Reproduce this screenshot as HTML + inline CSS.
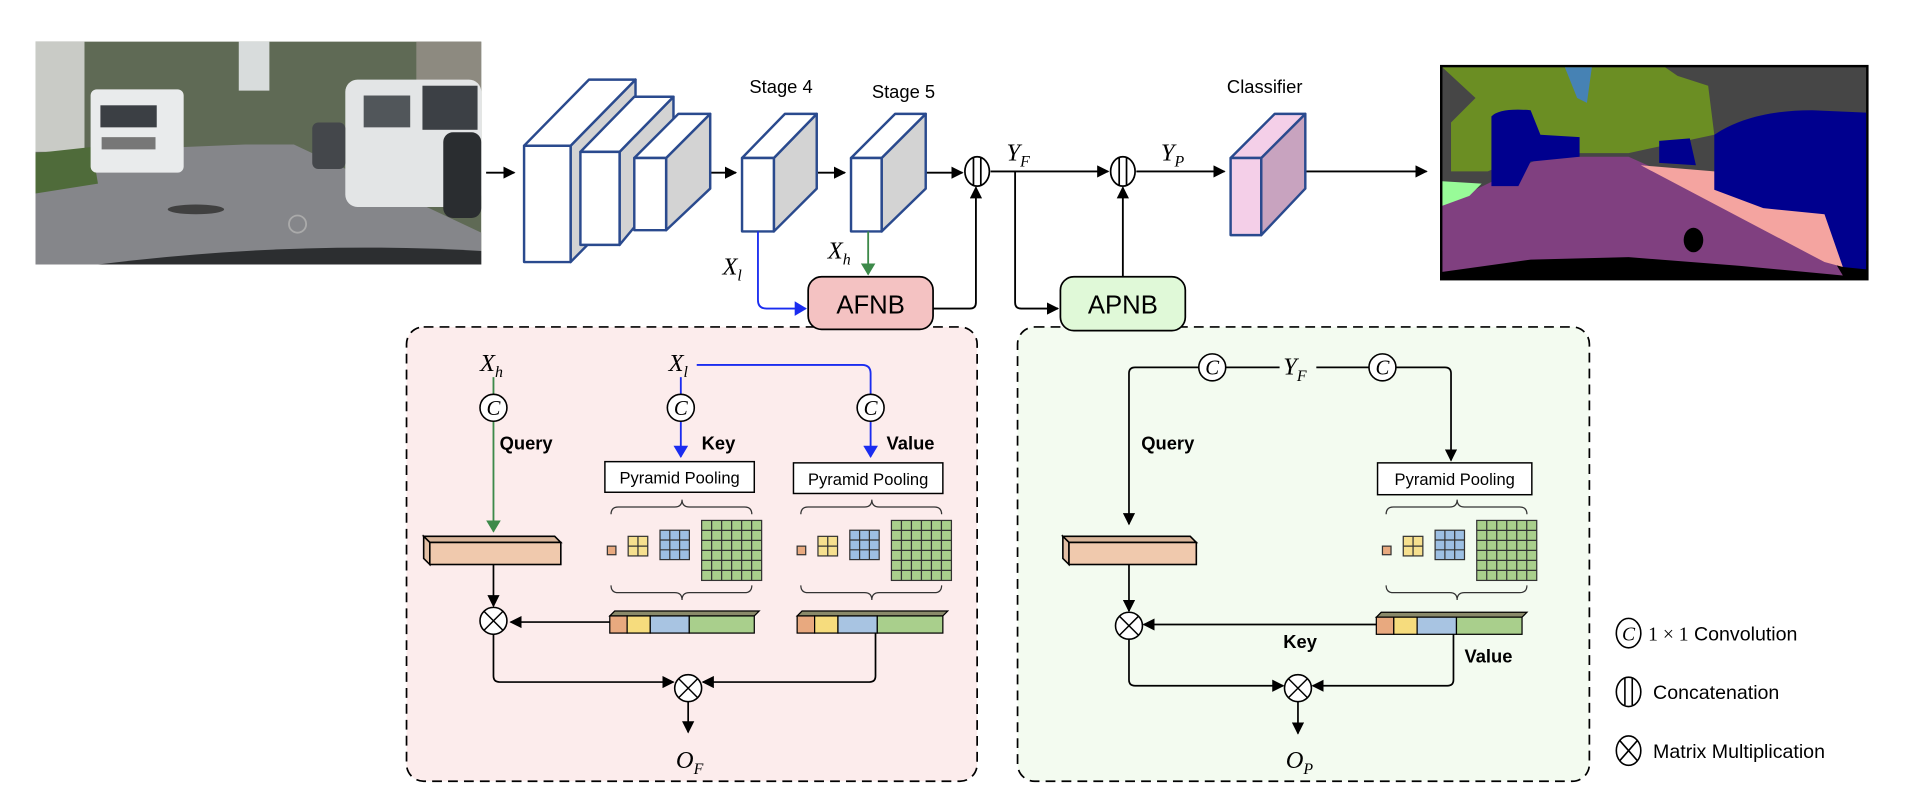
<!DOCTYPE html>
<html><head><meta charset="utf-8"><style>
html,body{margin:0;padding:0;background:#fff;width:1920px;height:787px;overflow:hidden}
svg{display:block}
text{font-family:"Liberation Sans",sans-serif;fill:#000}
.m{font-family:"Liberation Serif",serif;font-style:italic}
</style></head><body>
<svg id="s" width="1920" height="787" viewBox="0 0 1568 642.7" preserveAspectRatio="none" xmlns="http://www.w3.org/2000/svg">
<defs>
<marker id="ak" markerWidth="10" markerHeight="10" refX="9" refY="5" orient="auto" markerUnits="userSpaceOnUse"><path d="M0,0 L10,5 L0,10 Z" fill="#000"/></marker>
<marker id="ab" markerWidth="10" markerHeight="12" refX="9" refY="6" orient="auto" markerUnits="userSpaceOnUse"><path d="M0,0 L10,6 L0,12 Z" fill="#1a2cf0"/></marker>
<marker id="ag" markerWidth="10" markerHeight="12" refX="9" refY="6" orient="auto" markerUnits="userSpaceOnUse"><path d="M0,0 L10,6 L0,12 Z" fill="#3d8a4a"/></marker>
</defs>

<!-- photo -->
<g>
<rect x="29" y="34" width="364" height="182" fill="#5f6a55"/>
<rect x="195" y="34" width="25" height="40" fill="#d8dcdc"/>
<rect x="29" y="34" width="40" height="90" fill="#c9cbc6"/>
<rect x="340" y="34" width="53" height="40" fill="#8d8a80"/>
<path d="M29,125 L200,118 L240,118 L393,190 L393,216 L29,216 Z" fill="#85868a"/>
<path d="M29,125 L75,120 L80,150 L29,158 Z" fill="#4f6b3a"/>
<rect x="74" y="73" width="76" height="68" rx="5" fill="#e9ebec"/>
<rect x="82" y="86" width="46" height="18" fill="#3b3f44"/>
<rect x="83" y="112" width="44" height="10" fill="#777"/>
<rect x="282" y="65" width="111" height="104" rx="10" fill="#e3e5e6"/>
<rect x="345" y="70" width="45" height="36" fill="#3c4045"/>
<rect x="297" y="78" width="38" height="26" fill="#51565a"/>
<rect x="362" y="108" width="31" height="70" rx="8" fill="#2a2d30"/>
<rect x="255" y="100" width="27" height="38" rx="5" fill="#44474b"/>
<ellipse cx="160" cy="171" rx="23" ry="4" fill="#404040"/>
<path d="M80,216 Q240,196 393,205 L393,216 Z" fill="#2c2e30"/>
<circle cx="243" cy="183" r="7" fill="none" stroke="#aaa" stroke-width="1.5"/>
</g>

<!-- arrows top -->
<g stroke="#000" stroke-width="1.5" fill="none">
<line x1="397" y1="141" x2="420" y2="141" marker-end="url(#ak)"/>
<line x1="579" y1="141" x2="601" y2="141" marker-end="url(#ak)"/>
<line x1="668" y1="141" x2="690" y2="141" marker-end="url(#ak)"/>
<line x1="747" y1="141" x2="786" y2="141" marker-end="url(#ak)"/>
<line x1="809" y1="140" x2="905" y2="140" marker-end="url(#ak)"/>
<line x1="928" y1="140" x2="1000" y2="140" marker-end="url(#ak)"/>
<line x1="1067" y1="140" x2="1165" y2="140" marker-end="url(#ak)"/>
<path d="M762,252 L792,252 Q797,252 797,247 L797,153" marker-end="url(#ak)"/>
<path d="M829,140 L829,247 Q829,252 834,252 L864,252" marker-end="url(#ak)"/>
<line x1="917" y1="226" x2="917" y2="153" marker-end="url(#ak)"/>
</g>

<!-- blocks -->
<g stroke="#2a4a8e" stroke-width="2" stroke-linejoin="round">
<path d="M466,119 L519,65 L519,160 L466,214 Z" fill="#d3d3d3"/>
<path d="M428,119 L481,65 L519,65 L466,119 Z" fill="#fff"/>
<rect x="428" y="119" width="38" height="95" fill="#fff"/>
<path d="M506,124 L550,79 L550,147 L506,200 Z" fill="#d3d3d3"/>
<path d="M474,124 L518,79 L550,79 L506,124 Z" fill="#fff"/>
<rect x="474" y="124" width="32" height="76" fill="#fff"/>
<path d="M544,129 L580,93 L580,154 L544,188 Z" fill="#d3d3d3"/>
<path d="M518,129 L554,93 L580,93 L544,129 Z" fill="#fff"/>
<rect x="518" y="129" width="26" height="59" fill="#fff"/>
<path d="M632,129 L667,93 L667,154 L632,189 Z" fill="#d3d3d3"/>
<path d="M606,129 L641,93 L667,93 L632,129 Z" fill="#fff"/>
<rect x="606" y="129" width="26" height="60" fill="#fff"/>
<path d="M720,129 L756,93 L756,154 L720,189 Z" fill="#d3d3d3"/>
<path d="M695,129 L731,93 L756,93 L720,129 Z" fill="#fff"/>
<rect x="695" y="129" width="25" height="60" fill="#fff"/>
<path d="M1030,129 L1066,93 L1066,154 L1030,192 Z" fill="#c8a3bf"/>
<path d="M1005,129 L1041,93 L1066,93 L1030,129 Z" fill="#f4cfe8"/>
<rect x="1005" y="129" width="25" height="63" fill="#f4cfe8"/>
</g>
<text x="612" y="76" font-size="15">Stage 4</text>
<text x="712" y="80" font-size="15">Stage 5</text>
<text x="1002" y="76" font-size="15">Classifier</text>

<!-- Xl / Xh -->
<path d="M619,189 L619,245 Q619,252 626,252 L658,252" stroke="#1a2cf0" stroke-width="1.5" fill="none" marker-end="url(#ab)"/>
<line x1="709" y1="189" x2="709" y2="224" stroke="#3d8a4a" stroke-width="1.5" marker-end="url(#ag)"/>
<text class="m" x="590" y="224" font-size="20">X<tspan font-size="13" dy="5">l</tspan></text>
<text class="m" x="676" y="211" font-size="20">X<tspan font-size="13" dy="5">h</tspan></text>
<text class="m" x="822" y="131" font-size="20">Y<tspan font-size="13" dy="5">F</tspan></text>
<text class="m" x="948" y="131" font-size="20">Y<tspan font-size="13" dy="5">P</tspan></text>

<!-- concat circles -->
<g stroke="#000" stroke-width="1.4" fill="#fff">
<ellipse cx="798" cy="140" rx="10" ry="12"/><line x1="795" y1="129" x2="795" y2="151"/><line x1="801" y1="129" x2="801" y2="151"/>
<ellipse cx="917" cy="140" rx="10" ry="12"/><line x1="914" y1="129" x2="914" y2="151"/><line x1="920" y1="129" x2="920" y2="151"/>
</g>

<!-- panels -->
<rect x="332" y="267" width="466" height="371" rx="14" fill="#fcecec" stroke="#000" stroke-width="1.4" stroke-dasharray="8,5"/>
<rect x="831" y="267" width="467" height="371" rx="14" fill="#f3fbf0" stroke="#000" stroke-width="1.4" stroke-dasharray="8,5"/>
<rect x="660" y="226" width="102" height="43" rx="11" fill="#f4c2c2" stroke="#000" stroke-width="1.4"/>
<text x="711" y="256" font-size="21" text-anchor="middle">AFNB</text>
<rect x="866" y="226" width="102" height="44" rx="11" fill="#e0f9d8" stroke="#000" stroke-width="1.4"/>
<text x="917" y="256" font-size="21" text-anchor="middle">APNB</text>

<!-- seg image -->
<g>
<rect x="1176" y="53" width="350" height="176" fill="#000"/>
<rect x="1178" y="55" width="346" height="150" fill="#464646"/>
<path d="M1178,55 L1360,55 L1370,62 L1395,70 L1400,110 L1330,125 L1250,125 L1215,140 L1185,140 L1185,100 L1205,80 Z" fill="#6b8e23"/>
<path d="M1278,55 L1300,55 L1296,84 L1288,80 Z" fill="#4682b4"/>
<path d="M1178,168 L1260,128 L1330,128 L1490,200 L1505,225 L1420,217 L1330,210 L1250,212 L1178,222 Z" fill="#804080"/>
<path d="M1178,148 L1210,150 L1200,160 L1178,168 Z" fill="#98fb98"/>
<path d="M1340,135 L1400,140 L1505,175 L1505,218 L1490,214 Z" fill="#f4a4a0"/>
<path d="M1218,95 Q1225,88 1250,90 L1258,110 L1290,112 L1290,128 L1250,132 L1240,152 L1218,152 Z" fill="#00008e"/>
<path d="M1400,110 Q1430,90 1480,90 L1524,92 L1524,220 L1505,218 L1490,175 L1440,170 L1400,155 Z" fill="#00008e"/>
<path d="M1355,115 L1380,113 L1385,135 L1355,133 Z" fill="#00008e"/>
<ellipse cx="1383" cy="196" rx="8" ry="10" fill="#000"/>
</g>

<!-- AFNB internals -->
<text class="m" x="392" y="303" font-size="20">X<tspan font-size="13" dy="5">h</tspan></text>
<text class="m" x="546" y="303" font-size="20">X<tspan font-size="13" dy="5">l</tspan></text>
<line x1="403" y1="308" x2="403" y2="322" stroke="#3d8a4a" stroke-width="1.5"/>
<line x1="403" y1="344" x2="403" y2="434" stroke="#3d8a4a" stroke-width="1.5" marker-end="url(#ag)"/>
<line x1="556" y1="308" x2="556" y2="322" stroke="#1a2cf0" stroke-width="1.5"/>
<path d="M569,298 L704,298 Q711,298 711,305 L711,322" stroke="#1a2cf0" stroke-width="1.5" fill="none"/>
<line x1="556" y1="344" x2="556" y2="373" stroke="#1a2cf0" stroke-width="1.5" marker-end="url(#ab)"/>
<line x1="711" y1="344" x2="711" y2="373" stroke="#1a2cf0" stroke-width="1.5" marker-end="url(#ab)"/>
<text x="408" y="367" font-size="15" font-weight="bold">Query</text>
<text x="573" y="367" font-size="15" font-weight="bold">Key</text>
<text x="724" y="367" font-size="15" font-weight="bold">Value</text>
<rect x="494" y="377" width="122" height="25" fill="#fff" stroke="#000" stroke-width="1.2"/>
<text x="555" y="395" font-size="13.5" text-anchor="middle">Pyramid Pooling</text>
<rect x="648" y="378" width="122" height="25" fill="#fff" stroke="#000" stroke-width="1.2"/>
<text x="709" y="396" font-size="13.5" text-anchor="middle">Pyramid Pooling</text>

<g stroke="#000" stroke-width="1.4" fill="none">
<path d="M403,460 L403,495" marker-end="url(#ak)"/>
<path d="M498,508 L417,508" marker-end="url(#ak)"/>
<path d="M403,518 L403,552 Q403,557 408,557 L550,557" marker-end="url(#ak)"/>
<path d="M715,517 L715,552 Q715,557 710,557 L574,557" marker-end="url(#ak)"/>
<path d="M562,573 L562,598" marker-end="url(#ak)"/>
<path d="M979,300 L927,300 Q922,300 922,305 L922,428" marker-end="url(#ak)"/>
<path d="M1001,300 L1045,300 M1075,300 L1118,300"/>
<path d="M1140,300 L1180,300 Q1185,300 1185,305 L1185,376" marker-end="url(#ak)"/>
<path d="M922,460 L922,499" marker-end="url(#ak)"/>
<path d="M1124,510 L934,510" marker-end="url(#ak)"/>
<path d="M922,522 L922,555 Q922,560 927,560 L1048,560" marker-end="url(#ak)"/>
<path d="M1187,518 L1187,555 Q1187,560 1182,560 L1072,560" marker-end="url(#ak)"/>
<path d="M1060,573 L1060,599" marker-end="url(#ak)"/>
</g>
<text class="m" x="552" y="627" font-size="20">O<tspan font-size="13" dy="5">F</tspan></text>
<text class="m" x="1050" y="627" font-size="20">O<tspan font-size="13" dy="5">P</tspan></text>

<!-- APNB labels -->
<text class="m" x="1048" y="306" font-size="20">Y<tspan font-size="13" dy="5">F</tspan></text>
<text x="932" y="367" font-size="15" font-weight="bold">Query</text>
<text x="1048" y="529" font-size="15" font-weight="bold">Key</text>
<text x="1196" y="541" font-size="15" font-weight="bold">Value</text>
<rect x="1125" y="378" width="126" height="26" fill="#fff" stroke="#000" stroke-width="1.2"/>
<text x="1188" y="396" font-size="13.5" text-anchor="middle">Pyramid Pooling</text>

<g id="dyn"></g>

<!-- legend -->
<g stroke="#000" stroke-width="1.3" fill="#fff">
<ellipse cx="1330" cy="517" rx="10" ry="12"/>
<ellipse cx="1330" cy="565" rx="10" ry="12"/><line x1="1327" y1="554" x2="1327" y2="576"/><line x1="1333" y1="554" x2="1333" y2="576"/>
<ellipse cx="1330" cy="613" rx="10" ry="12"/><line x1="1323" y1="605" x2="1337" y2="621"/><line x1="1337" y1="605" x2="1323" y2="621"/>
</g>
<text class="m" x="1330" y="523" font-size="16" text-anchor="middle">C</text>
<text x="1346" y="523" font-size="16"><tspan font-family="Liberation Serif">1 × 1</tspan> Convolution</text>
<text x="1350" y="571" font-size="16">Concatenation</text>
<text x="1350" y="619" font-size="16">Matrix Multiplication</text>
</svg>
<script>
var NS="http://www.w3.org/2000/svg",g=document.getElementById("dyn");
function el(t,a){var e=document.createElementNS(NS,t);for(var k in a)e.setAttribute(k,a[k]);g.appendChild(e);return e;}
function grid(x,y,s,n,fill){el("rect",{x:x,y:y,width:s,height:s,fill:fill,stroke:"#333","stroke-width":1});
 for(var i=1;i<n;i++){var d=s*i/n;el("line",{x1:x+d,y1:y,x2:x+d,y2:y+s,stroke:"#333","stroke-width":1});el("line",{x1:x,y1:y+d,x2:x+s,y2:y+d,stroke:"#333","stroke-width":1});}}
function pyr(x0){grid(x0,446,7,1,"#e8a97f");grid(x0+17,438,16,2,"#f6e08f");grid(x0+43,433,24,3,"#9dbfe3");grid(x0+77,425,49,6,"#a9cf8c");
 el("path",{d:"M"+(x0+3)+",420 q0,-6 6,-6 L"+(x0+55)+",414 q6,0 6,-6 q0,6 6,6 L"+(x0+112)+",414 q6,0 6,6",fill:"none",stroke:"#333","stroke-width":1});
 el("path",{d:"M"+(x0+3)+",478 q0,6 6,6 L"+(x0+55)+",484 q6,0 6,6 q0,-6 6,-6 L"+(x0+112)+",484 q6,0 6,-6",fill:"none",stroke:"#333","stroke-width":1});}
function qbar(x,y,w,h){var d=5;
 el("path",{d:"M"+x+","+y+" l"+d+","+d+" l"+(w-d)+",0 l-"+d+",-"+d+" Z",fill:"#d8b59a",stroke:"#000","stroke-width":1.3});
 el("path",{d:"M"+x+","+y+" l"+d+","+d+" l0,"+(h-d)+" l-"+d+",-"+d+" Z",fill:"#e2bfa5",stroke:"#000","stroke-width":1.3});
 el("rect",{x:x+d,y:y+d,width:w-d,height:h-d,fill:"#f0c9ad",stroke:"#000","stroke-width":1.3});}
function cbar(x,y,w){var segs=[[0,.12,"#e8a97f"],[.12,.28,"#f6dc7d"],[.28,.55,"#a8c4e2"],[.55,1,"#a9cf8c"]];
 el("path",{d:"M"+x+","+y+" l4,-4 l"+w+",0 l-4,4 Z",fill:"#8a8a6a",stroke:"#000","stroke-width":1});
 segs.forEach(function(s){el("rect",{x:x+w*s[0],y:y,width:w*(s[1]-s[0]),height:14,fill:s[2],stroke:"#000","stroke-width":1});});}
pyr(496);pyr(651);pyr(1129);
qbar(346,438,112,23);qbar(868,438,109,23);
cbar(498,503,118);cbar(651,503,119);cbar(1124,504,119);
function circ(cx,cy,type){el("ellipse",{cx:cx,cy:cy,rx:11,ry:11,fill:"#fff",stroke:"#000","stroke-width":1.3});
 if(type=="x"){el("line",{x1:cx-7.5,y1:cy-7.5,x2:cx+7.5,y2:cy+7.5,stroke:"#000","stroke-width":1.2});el("line",{x1:cx+7.5,y1:cy-7.5,x2:cx-7.5,y2:cy+7.5,stroke:"#000","stroke-width":1.2});}
 else{var t=el("text",{x:cx,y:cy+6,"font-size":17,"text-anchor":"middle","class":"m"});t.textContent="C";}}
circ(403,333,"c");circ(556,333,"c");circ(711,333,"c");circ(990,300,"c");circ(1129,300,"c");
circ(403,507,"x");circ(562,562,"x");circ(922,511,"x");circ(1060,562,"x");
</script>
</body></html>
